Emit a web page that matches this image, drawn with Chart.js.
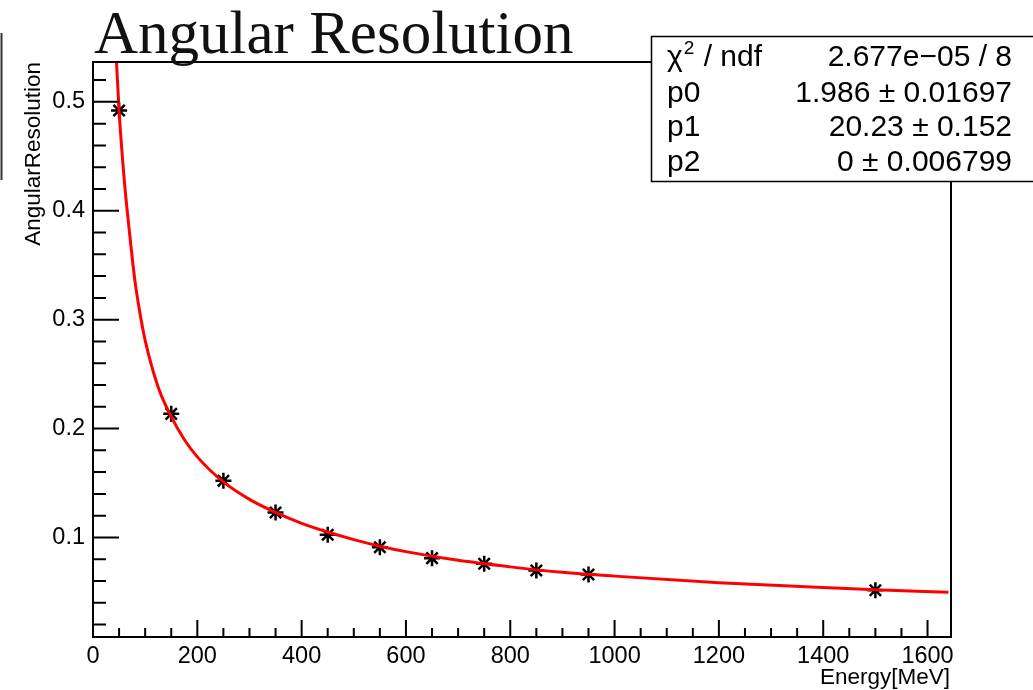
<!DOCTYPE html>
<html>
<head>
<meta charset="utf-8">
<script src="https://cdn.jsdelivr.net/npm/chart.js@4/dist/chart.umd.min.js"></script>
<style>
  html, body { margin: 0; padding: 0; background: #fff; }
  #wrap { width: 1033px; height: 690px; position: relative; }
</style>
</head>
<body>
<div id="wrap"><canvas id="chart1"></canvas></div>
<script>
// measured points
var energy     = [50, 150, 250, 350, 450, 550, 650, 750, 850, 950, 1500]
var resolution = [0.492, 0.2135, 0.152, 0.123, 0.1025, 0.091, 0.081, 0.0758, 0.0697, 0.066, 0.0516]

// red fit curve
var fitX = [45, 50, 60, 70, 80, 90, 100, 125, 150, 175, 200, 250, 300, 350, 400, 450, 500, 550, 600, 700, 800, 900, 1000, 1200, 1400, 1500, 1640]
var fitY = [0.537, 0.492, 0.428, 0.38, 0.337, 0.306, 0.281, 0.238, 0.211, 0.19, 0.174, 0.151, 0.135, 0.123, 0.113, 0.105, 0.098, 0.092, 0.087, 0.079, 0.073, 0.068, 0.0645, 0.0585, 0.054, 0.052, 0.0497]

var xTicks = [0, 200, 400, 600, 800, 1000, 1200, 1400, 1600]
var yTicks = [0.1, 0.2, 0.3, 0.4, 0.5]

var statLabels = ['p0', 'p1', 'p2']
var statValues = ['1.986 \u00b1 0.01697', '20.23 \u00b1 0.152', '0 \u00b1 0.006799']
var chiText = '2.677e\u221205 / 8'

var sans = '"Liberation Sans", Arial, Helvetica, sans-serif'

var rootStyle = {
  id: 'rootStyle',
  afterDraw: function(chart) {
    var ctx = chart.ctx
    var a = chart.chartArea
    var xs = chart.scales.x
    var ys = chart.scales.y
    ctx.save()

    // frame
    ctx.strokeStyle = '#000'
    ctx.lineWidth = 2
    ctx.strokeRect(a.left, a.top, a.right - a.left, a.bottom - a.top)

    // ticks inside the frame, like ROOT
    ctx.lineWidth = 2
    ctx.beginPath()
    for (var v = 0; v <= 1645; v += 50) {
      var px = xs.getPixelForValue(v)
      var len = (v % 200 === 0) ? 17 : 9
      ctx.moveTo(px, a.bottom)
      ctx.lineTo(px, a.bottom - len)
    }
    for (var k = 1; k <= 26; k++) {
      var val = k * 0.02
      var py = ys.getPixelForValue(val)
      var ylen = (k % 5 === 0) ? 26 : 13
      ctx.moveTo(a.left, py)
      ctx.lineTo(a.left + ylen, py)
    }
    ctx.stroke()

    // axis titles
    ctx.fillStyle = '#000'
    ctx.font = '22.5px ' + sans
    ctx.textAlign = 'right'
    ctx.textBaseline = 'alphabetic'
    ctx.fillText('Energy[MeV]', 950, 684)

    ctx.save()
    ctx.translate(40, 62)
    ctx.rotate(-Math.PI / 2)
    ctx.textAlign = 'right'
    ctx.fillText('AngularResolution', 0, 0)
    ctx.restore()

    // title
    ctx.font = '61px "Liberation Serif", "Times New Roman", serif'
    ctx.textAlign = 'left'
    ctx.fillStyle = '#111'
    ctx.fillText('Angular Resolution', 94, 53)

    // left edge stub of a clipped box
    ctx.strokeStyle = '#333'
    ctx.lineWidth = 2
    ctx.beginPath()
    ctx.moveTo(1.5, 33)
    ctx.lineTo(1.5, 180)
    ctx.stroke()

    // stats box
    ctx.fillStyle = '#fff'
    ctx.fillRect(651, 36, 400, 145)
    ctx.strokeStyle = '#000'
    ctx.lineWidth = 1.5
    ctx.strokeRect(651.5, 36.5, 400, 145)

    ctx.fillStyle = '#000'
    ctx.font = '30px ' + sans
    ctx.textAlign = 'left'
    ctx.fillText('\u03c7', 667, 66)
    var cw = ctx.measureText('\u03c7').width
    ctx.font = '19px ' + sans
    ctx.fillText('2', 667 + cw + 1, 54)
    var sw = ctx.measureText('2').width
    ctx.font = '30px ' + sans
    ctx.fillText(' / ndf', 667 + cw + sw + 2, 66)
    ctx.textAlign = 'right'
    ctx.fillText(chiText, 1012, 66)

    var bases = [101.5, 136, 170.5]
    for (var i = 0; i < statLabels.length; i++) {
      ctx.textAlign = 'left'
      ctx.fillText(statLabels[i], 667, bases[i])
      ctx.textAlign = 'right'
      ctx.fillText(statValues[i], 1012, bases[i])
    }
    ctx.restore()
  }
}

var points = energy.map(function(e, i) { return {x: e, y: resolution[i]} })
var fitPoints = fitX.map(function(e, i) { return {x: e, y: fitY[i]} })

var chartCanvas = document.getElementById('chart1').getContext('2d')
new Chart(chartCanvas, {
  type: 'scatter',
  data: {
    datasets: [
      {
        label: 'fit',
        type: 'line',
        data: fitPoints,
        borderColor: '#ff0000',
        borderWidth: 3,
        pointRadius: 0,
        fill: false,
        cubicInterpolationMode: 'monotone'
      },
      {
        label: 'AngularResolution',
        data: points,
        pointStyle: 'star',
        pointRadius: 8,
        borderColor: '#000',
        backgroundColor: '#000',
        pointBorderWidth: 2.5
      }
    ]
  },
  options: {
    responsive: true,
    maintainAspectRatio: false,
    animation: false,
    layout: { padding: { top: 62, right: 82, left: 0, bottom: 0 } },
    plugins: { legend: { display: false }, tooltip: { enabled: false }, title: { display: false } },
    scales: {
      x: {
        type: 'linear',
        min: 0,
        max: 1645,
        grid: { display: false, drawTicks: false, tickLength: 0 },
        border: { display: false },
        afterBuildTicks: function(s) { s.ticks = xTicks.map(function(v) { return {value: v} }) },
        afterFit: function(s) { s.height = 53 },
        ticks: {
          color: '#000', padding: 5, maxRotation: 0, font: { size: 23.5, family: sans },
          callback: function(v) { return String(v) }
        }
      },
      y: {
        type: 'linear',
        min: 0.0086,
        max: 0.5366,
        grid: { display: false, drawTicks: false, tickLength: 0 },
        border: { display: false },
        afterBuildTicks: function(s) { s.ticks = yTicks.map(function(v) { return {value: v} }) },
        afterFit: function(s) { s.width = 93 },
        ticks: {
          color: '#000', padding: 8, font: { size: 23.5, family: sans },
          callback: function(v) { return v.toFixed(1) }
        }
      }
    }
  },
  plugins: [rootStyle]
})
</script>
</body>
</html>
